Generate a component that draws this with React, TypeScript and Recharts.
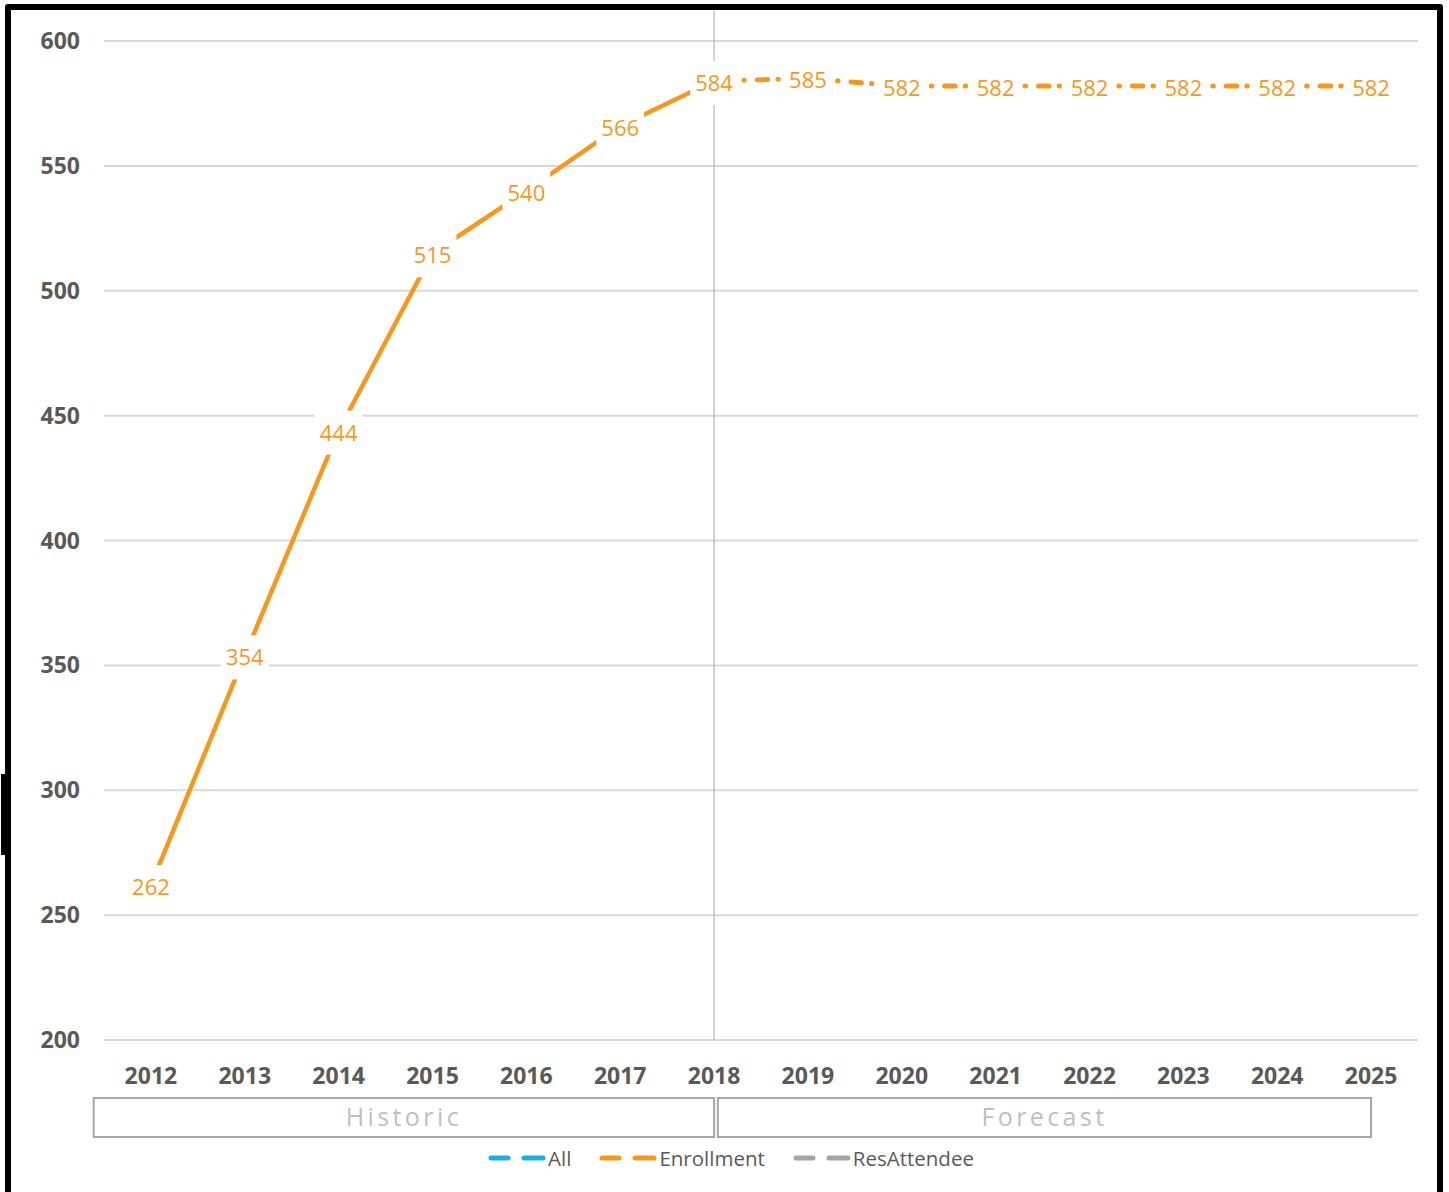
import React from "react";
import {
  LineChart,
  Line,
  XAxis,
  YAxis,
  CartesianGrid,
  ReferenceLine,
  ReferenceArea,
  LabelList,
  Legend,
} from "recharts";

// ---- data ----
const years = [2012, 2013, 2014, 2015, 2016, 2017, 2018, 2019, 2020, 2021, 2022, 2023, 2024, 2025];
const historicEnrollment: (number | null)[] = [262, 354, 444, 515, 540, 566, 584, null, null, null, null, null, null, null];
const forecastEnrollment: (number | null)[] = [null, null, null, null, null, null, 584, 585, 582, 582, 582, 582, 582, 582];
const yTicks = [200, 250, 300, 350, 400, 450, 500, 550, 600];
const legendItems = [
  { name: "All", color: "#1CADE4" },
  { name: "Enrollment", color: "#F7981D" },
  { name: "ResAttendee", color: "#A5A5A5" },
];
const groupNames = ["Historic", "Forecast"];
const splitYear = 2018;

// group spans on the category axis (axis units)
const groupSpans = [
  { x1: 2011.39, x2: 2018.0 },
  { x1: 2018.04, x2: 2025.0 },
];
const groupBand = { y1: 161.2, y2: 176.8 };

const data = years.map((year, i) => ({
  year,
  historic: historicEnrollment[i],
  forecast: forecastEnrollment[i],
}));

const ORANGE = "#F7981D";
const FONT = "'Open Sans', 'DejaVu Sans', sans-serif";

const YTick = (props: any) => {
  const { x, y, payload } = props;
  return (
    <text x={x} y={y + 8} textAnchor="end" fill="#595959" fontFamily={FONT} fontWeight={700} fontSize={23}>
      {payload.value}
    </text>
  );
};

const XTick = (props: any) => {
  const { x, y, payload } = props;
  return (
    <text x={x} y={y + 44} textAnchor="middle" fill="#595959" fontFamily={FONT} fontWeight={700} fontSize={23}>
      {payload.value}
    </text>
  );
};

const makeLabel = (skipLast: boolean) => (props: any) => {
  const { x, y, value, index } = props;
  if (value === null || value === undefined) return null;
  if (skipLast && index === 6) return null;
  const cx = x;
  const cy = y + 2;
  const w = String(value).length * 12.6 + 10;
  return (
    <g>
      <rect x={cx - w / 2} y={cy - 22} width={w} height={44} fill="#ffffff" />
      <text x={cx} y={cy + 8} textAnchor="middle" fill={ORANGE} fontFamily={FONT} fontSize={22}>
        {value}
      </text>
    </g>
  );
};

const GroupLabel = (props: any) => {
  const { viewBox, text } = props;
  if (!viewBox) return null;
  const cx = viewBox.x + viewBox.width / 2;
  const cy = viewBox.y + viewBox.height / 2;
  return (
    <text
      x={cx}
      y={cy + 9}
      textAnchor="middle"
      fill="#BFBFBF"
      fontFamily={FONT}
      fontSize={25}
      letterSpacing={3.4}
    >
      {text}
    </text>
  );
};

const LegendContent = () => (
  <div
    style={{
      display: "flex",
      justifyContent: "center",
      alignItems: "center",
      fontFamily: FONT,
      fontSize: 20.5,
      color: "#595959",
    }}
  >
    {legendItems.map((item) => (
      <div key={item.name} style={{ display: "flex", alignItems: "center", margin: "0 14px" }}>
        <svg width={58} height={10} style={{ display: "block" }}>
          <line x1={3} y1={5} x2={20} y2={5} stroke={item.color} strokeWidth={5} strokeLinecap="round" />
          <line x1={36} y1={5} x2={55} y2={5} stroke={item.color} strokeWidth={5} strokeLinecap="round" />
        </svg>
        <span style={{ marginLeft: 2, lineHeight: "26px" }}>{item.name}</span>
      </div>
    ))}
  </div>
);

export default function App() {
  return (
    <div style={{ position: "absolute", left: 0, top: 0, width: 1449, height: 1192, background: "#fff", overflow: "hidden" }}>
      <LineChart
        width={1449}
        height={1192}
        data={data}
        margin={{ top: 41, right: 31, left: 0, bottom: 92 }}
      >
        <CartesianGrid vertical={false} stroke="#D9D9D9" strokeWidth={2} />
        <XAxis
          dataKey="year"
          type="number"
          domain={[2011.5, 2025.5]}
          ticks={years}
          allowDataOverflow
          axisLine={false}
          tickLine={false}
          tickSize={0}
          tickMargin={0}
          height={60}
          tick={<XTick />}
          interval={0}
        />
        <YAxis
          domain={[200, 600]}
          ticks={yTicks}
          width={104}
          axisLine={false}
          tickLine={false}
          tickSize={0}
          tickMargin={24}
          tick={<YTick />}
          allowDataOverflow
        />
        {groupSpans.map((g, i) => (
          <ReferenceArea
            key={groupNames[i]}
            x1={g.x1}
            x2={g.x2}
            y1={groupBand.y1}
            y2={groupBand.y2}
            ifOverflow="visible"
            fill="#ffffff"
            fillOpacity={1}
            stroke="#A6A6A6"
            strokeWidth={2}
            label={<GroupLabel text={groupNames[i]} />}
          />
        ))}
        <ReferenceLine
          segment={[
            { x: splitYear, y: 200 },
            { x: splitYear, y: 613 },
          ]}
          ifOverflow="visible"
          stroke="#A6A6A6"
          strokeWidth={1}
        />
        <Line
          dataKey="historic"
          type="linear"
          stroke={ORANGE}
          strokeWidth={4.5}
          strokeLinecap="round"
          dot={false}
          activeDot={false}
          isAnimationActive={false}
          connectNulls={false}
        >
          <LabelList dataKey="historic" content={makeLabel(true)} />
        </Line>
        <Line
          dataKey="forecast"
          type="linear"
          stroke={ORANGE}
          strokeWidth={5}
          strokeLinecap="round"
          strokeDasharray="0.5 13 10.5 10 0.5 59.36"
          strokeDashoffset={-29.75}
          dot={false}
          activeDot={false}
          isAnimationActive={false}
          connectNulls={false}
        >
          <LabelList dataKey="forecast" content={makeLabel(false)} />
        </Line>
        <Legend
          verticalAlign="middle"
          align="center"
          layout="horizontal"
          wrapperStyle={{ top: 1145, left: 0, width: 1462 }}
          content={<LegendContent />}
        />
      </LineChart>
      <div
        style={{
          position: "absolute",
          left: 5,
          top: 4,
          width: 1438,
          height: 1220,
          border: "6px solid #000",
          boxSizing: "border-box",
          borderRadius: 3,
          pointerEvents: "none",
        }}
      />
      <div style={{ position: "absolute", left: 1, top: 774, width: 10, height: 81, background: "#000" }} />
    </div>
  );
}
